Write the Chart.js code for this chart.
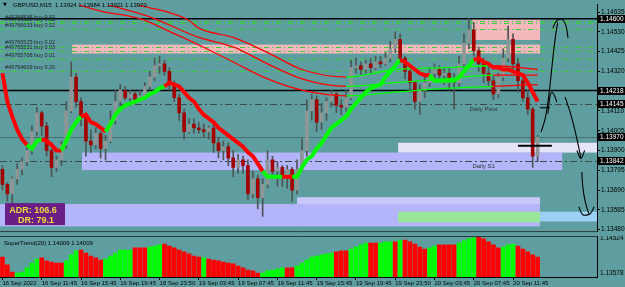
<!DOCTYPE html>
<html>
<head>
<meta charset="utf-8">
<script src="https://cdn.jsdelivr.net/npm/chart.js@4.4.1/dist/chart.umd.min.js"></script>
<style>
html, body { margin: 0; padding: 0; background: #5f9ea0; }
#wrap { position: relative; width: 625px; height: 287px; overflow: hidden; background: #5f9ea0; }
#main { position: absolute; left: 0; top: 0; }
#sub { position: absolute; left: 0; top: 236px; }
</style>
</head>
<body>
<div id="wrap">
  <canvas id="main" width="625" height="236"></canvas>
  <canvas id="sub" width="625" height="51"></canvas>
</div>
<script>
// GBPUSD M15 - candles, one per slot
const open = [1.1380,1.1372,1.1367,1.1375,1.1380,1.1384,1.1390,1.1400,1.1410,1.1403,
  1.1390,1.1381,1.1385,1.1393,1.1411,1.1429,1.1416,1.1408,1.1395,1.1393,
  1.1399,1.1391,1.1395,1.1406,1.1416,1.1422,1.1418,1.1420,1.1417,1.1419,
  1.1424,1.1429,1.1435,1.1436,1.1432,1.1425,1.1418,1.1410,1.1400,1.1404,
  1.1402,1.1401,1.1400,1.1402,1.1394,1.1390,1.1392,1.1386,1.1381,1.1385,
  1.1382,1.1367,1.1375,1.1365,1.1372,1.1385,1.1379,1.1381,1.1376,1.1380,
  1.1369,1.1380,1.1390,1.1411,1.1417,1.1405,1.1410,1.1416,1.1420,1.1414,
  1.1413,1.1418,1.1434,1.1435,1.1433,1.1436,1.1434,1.1437,1.1436,1.1439,
  1.1444,1.1449,1.1439,1.1432,1.1426,1.1416,1.1422,1.1426,1.1431,1.1433,
  1.1430,1.1431,1.1427,1.1426,1.1436,1.1447,1.1454,1.1443,1.1436,1.1431,
  1.1427,1.1420,1.1429,1.1439,1.1449,1.1436,1.1427,1.1418,1.1412,1.1387];
const high = [1.1382,1.1373,1.1376,1.1383,1.1386,1.1393,1.1403,1.1413,1.1411,1.1405,
  1.1391,1.1387,1.1395,1.1416,1.1437,1.1431,1.1418,1.1410,1.1401,1.1402,
  1.1400,1.1398,1.1411,1.1422,1.1425,1.1424,1.1422,1.1421,1.1422,1.1426,
  1.1432,1.1439,1.1440,1.1438,1.1434,1.1427,1.1420,1.1412,1.1407,1.1407,
  1.1405,1.1404,1.1403,1.1404,1.1397,1.1395,1.1394,1.1390,1.1388,1.1387,
  1.1385,1.1379,1.1377,1.1375,1.1390,1.1387,1.1384,1.1382,1.1382,1.1381,
  1.1385,1.1396,1.1417,1.1420,1.1419,1.1415,1.1418,1.1422,1.1421,1.1417,
  1.1422,1.1438,1.1439,1.1437,1.1438,1.1439,1.1440,1.1440,1.1442,1.1448,
  1.1453,1.1452,1.1440,1.1434,1.1427,1.1425,1.1429,1.1434,1.1436,1.1435,
  1.1434,1.1434,1.1431,1.1440,1.1452,1.1460,1.1458,1.1445,1.1439,1.1435,
  1.1430,1.1431,1.1444,1.1456,1.1452,1.1439,1.1430,1.1422,1.1413,1.1398];
const low = [1.1369,1.1363,1.1362,1.1372,1.1377,1.1382,1.1388,1.1398,1.1398,1.1387,
  1.1376,1.1379,1.1382,1.1391,1.1410,1.1413,1.1403,1.1387,1.1389,1.1391,
  1.1386,1.1385,1.1394,1.1404,1.1413,1.1417,1.1414,1.1415,1.1416,1.1418,
  1.1422,1.1427,1.1431,1.1430,1.1422,1.1416,1.1406,1.1396,1.1399,1.1399,
  1.1399,1.1397,1.1396,1.1389,1.1386,1.1385,1.1382,1.1376,1.1378,1.1378,
  1.1364,1.1365,1.1359,1.1355,1.1370,1.1375,1.1371,1.1371,1.1370,1.1363,
  1.1367,1.1379,1.1387,1.1406,1.1400,1.1401,1.1406,1.1413,1.1410,1.1409,
  1.1411,1.1417,1.1431,1.1430,1.1431,1.1431,1.1433,1.1434,1.1435,1.1437,
  1.1442,1.1437,1.1428,1.1421,1.1412,1.1409,1.1418,1.1424,1.1428,1.1427,
  1.1425,1.1422,1.1412,1.1424,1.1434,1.1444,1.1440,1.1432,1.1426,1.1424,
  1.1417,1.1418,1.1427,1.1437,1.1432,1.1421,1.1416,1.1409,1.1381,1.1384];
const close = [1.1372,1.1367,1.1375,1.1380,1.1384,1.1390,1.1400,1.1410,1.1403,1.1390,
  1.1381,1.1385,1.1393,1.1411,1.1429,1.1416,1.1408,1.1395,1.1393,1.1399,
  1.1391,1.1395,1.1406,1.1416,1.1422,1.1418,1.1420,1.1417,1.1419,1.1424,
  1.1429,1.1435,1.1436,1.1432,1.1425,1.1418,1.1410,1.1400,1.1404,1.1402,
  1.1401,1.1400,1.1402,1.1394,1.1390,1.1392,1.1386,1.1381,1.1385,1.1382,
  1.1367,1.1375,1.1365,1.1372,1.1385,1.1379,1.1381,1.1376,1.1380,1.1369,
  1.1380,1.1390,1.1411,1.1417,1.1405,1.1410,1.1416,1.1420,1.1414,1.1413,
  1.1418,1.1434,1.1435,1.1433,1.1436,1.1434,1.1437,1.1436,1.1439,1.1444,
  1.1449,1.1439,1.1432,1.1426,1.1416,1.1422,1.1426,1.1431,1.1433,1.1430,
  1.1431,1.1427,1.1426,1.1436,1.1447,1.1454,1.1443,1.1436,1.1431,1.1427,
  1.1420,1.1429,1.1439,1.1449,1.1436,1.1427,1.1418,1.1412,1.1387,1.1397];

// supertrend on the main window (r = down, g = up)
const stValue = [1.1431,1.1416,1.1408,1.1401,1.1396,1.1393,1.1391,1.1395,1.1396,1.1395,
  1.1393,1.1390,1.1390,1.1395,1.1401,1.1405,1.1408,1.1409,1.1405,1.1404,
  1.1402,1.1400,1.1404,1.1409,1.1412,1.1414,1.1415,1.1416,1.1417,1.1418,
  1.1420,1.1421,1.1423,1.1424,1.1426,1.1425,1.1424,1.1421,1.1418,1.1416,
  1.1412,1.1409,1.1407,1.1405,1.1402,1.1400,1.1398,1.1396,1.1394,1.1392,
  1.1389,1.1387,1.1383,1.1379,1.1376,1.1376,1.1376,1.1376,1.1376,1.1376,
  1.1376,1.1381,1.1385,1.1387,1.1391,1.1394,1.1398,1.1402,1.1404,1.1406,
  1.1408,1.1412,1.1415,1.1418,1.1421,1.1423,1.1424,1.1425,1.1429,1.1432,
  1.1435,1.1438,1.1437,1.1435,1.1433,1.1431,1.1430,1.1430,1.1427,1.1427,
  1.1427,1.1427,1.1427,1.1429,1.1432,1.1435,1.1438,1.1439,1.1437,1.1436,
  1.1434,1.1434,1.1433,1.1433,1.1432,1.1431,1.1430,1.1426,1.1421,1.1416];
const stTrend = ('rrrrrr ggg rrrr gggg rrrrr gggggggggggg rrrrrrrrrrrrrrrrrrrr gggg rr ' +
  'gggggggggggggggggggggg rrrrrr ggggggggg rrrrrrrrrrrrr').replace(/ /g, '').split('');

// moving averages, read at a few bars
const maSlowBars = [12,16,20,28,35,40,47,54,61,70,80,90,100,109];
const maSlow = [1.1471,1.1467,1.1464,1.1460,1.1452,1.1446,1.1437,1.1428,1.1422,1.1419,1.1421,1.1423,1.1424,1.1425];
const maMidBars = [18,22,30,40,47,54,61,70,80,90,100,109];
const maMid = [1.1470,1.1467,1.1461,1.1450,1.1445,1.1436,1.1428,1.1424,1.1426,1.1428,1.1430,1.1430];
const maFastBars = [25,28,33,38,40,47,54,61,70,80,90,100,109];
const maFast = [1.1470,1.1467,1.1464,1.1459,1.1455,1.1450,1.1442,1.1433,1.1429,1.1433,1.1434,1.1435,1.1433];
const maUpFrom = 70, maUpTo = 97;

// SuperTrend(20) sub window
const histValue = [1.1404,1.1386,1.1369,1.1367,1.1369,1.1379,1.1390,1.1399,1.1402,1.1395,
  1.1392,1.1390,1.1390,1.1395,1.1409,1.1418,1.1420,1.1413,1.1406,1.1402,
  1.1397,1.1399,1.1406,1.1413,1.1420,1.1420,1.1420,1.1425,1.1425,1.1425,
  1.1427,1.1429,1.1432,1.1434,1.1429,1.1425,1.1420,1.1416,1.1411,1.1406,
  1.1404,1.1402,1.1399,1.1397,1.1395,1.1392,1.1390,1.1388,1.1383,1.1379,
  1.1374,1.1372,1.1367,1.1367,1.1372,1.1374,1.1376,1.1379,1.1379,1.1379,
  1.1383,1.1390,1.1397,1.1404,1.1406,1.1409,1.1411,1.1413,1.1416,1.1418,
  1.1418,1.1422,1.1427,1.1432,1.1436,1.1436,1.1436,1.1436,1.1439,1.1439,
  1.1439,1.1443,1.1443,1.1439,1.1434,1.1427,1.1422,1.1425,1.1429,1.1432,
  1.1432,1.1432,1.1432,1.1436,1.1441,1.1446,1.1448,1.1450,1.1446,1.1439,
  1.1432,1.1425,1.1427,1.1432,1.1434,1.1429,1.1422,1.1416,1.1409,1.1404];
const histTrend = ('rrr ggggg rrrrr ggg rrrrr gggggg rrr ggg rrrrrrrr g rrrrrrrrrrr ggggg rr ' +
  'gggggggg rrr gggg rr ggg r g rrrrr gg rrrr gggg rrrrr ggg rrrrr').replace(/ /g, '').split('');
const histMin = 1.13578, histMax = 1.14524;

// axes
const priceMin = 1.13472, priceMax = 1.14673;
const priceTicks = [1.14635,1.14530,1.14425,1.14320,1.14215,1.14110,1.14005,1.13900,1.13795,1.13690,1.13585,1.13480];
const priceTags = [1.14600,1.14218,1.14145,1.13970,1.13842];
const timeSlots = [0,8,16,24,32,40,48,56,64,72,80,88,96,104];
const timeLabels = ['16 Sep 2022','16 Sep 11:45','16 Sep 15:45','16 Sep 19:45','18 Sep 23:50','19 Sep 03:45','19 Sep 07:45',
  '19 Sep 11:45','19 Sep 15:45','19 Sep 19:45','19 Sep 23:50','20 Sep 03:45','20 Sep 07:45','20 Sep 11:45'];
const slotMin = -0.5, slotMax = 121.1;

// chart objects
const blackLevels = [1.14600, 1.14218];
const bidLevel = 1.13970;
const pivotNames = ['Daily Pivot', 'Daily S1'];
const pivotLevels = [1.14145, 1.13842];
const pivotLabelSlot = 98;
const orderNames = ['#49766535 buy 0.02','#49766538 buy 0.02','#49766633 buy 0.02','#49765525 buy 0.02',
  '#49765531 buy 0.03','#49765706 buy 0.01','#49764609 buy 0.20'];
const orderPrices = [1.14585,1.14575,1.14544,1.14451,1.14426,1.14384,1.14322];
const zoneNames = ['pink','pink','lav','pale','lav','lavLight','green','blue'];
const zoneStart = [14.2, 95.6, 16.2, 80.6, -0.5, 60.0, 80.6, 109.5];
const zoneEnd = [109.5, 109.5, 114.0, 121.1, 109.5, 109.5, 109.5, 121.1];
const zoneHigh = [1.14462,1.14596,1.13889,1.13941,1.13616,1.13652,1.13575,1.13575];
const zoneLow = [1.14415,1.14487,1.13796,1.13889,1.13497,1.13616,1.13518,1.13523];
const adrText = ['ADR: 106.6', 'DR: 79.1'];
const titleText = 'GBPUSD,M15  1.13924 1.13984 1.13921 1.13970';
const subTitle = 'SuperTrend(20) 1.14009 1.14009';

// hand drawn strokes (slot, price)
const sketchSlots = [
  [109.7,110.5,111.1,111.5,112.1,112.7,113.1],
  [112.1,112.9,114.0,114.8,115.2],
  [111.1,111.5,111.9,112.5,112.9],
  [114.6,115.6,116.4,117.0,117.6,117.8],
  [117.0,117.8,118.6],
  [118.0,118.2,118.6,119.1,119.5],
  [117.4,118.2,119.7,120.5],
  [109.5,111.5]
];
const sketchPrices = [
  [1.13998,1.14065,1.14157,1.14240,1.14389,1.14518,1.14580],
  [1.14549,1.14590,1.14596,1.14560,1.14498],
  [1.14096,1.14183,1.14209,1.14188,1.14157],
  [1.14183,1.14106,1.14029,1.13962,1.13889,1.13858],
  [1.13900,1.13858,1.13900],
  [1.13786,1.13709,1.13642,1.13590,1.13564],
  [1.13601,1.13559,1.13564,1.13601],
  [1.14127,1.14127]
];
const markSlots = [105.0, 111.9];
const markPrice = 1.13925;

const zoneColors = { pink: '#f4b8bc', lav: '#b4b4fa', pale: '#e4e4f8', lavLight: '#c8c8fa', green: '#98e698', blue: '#9ccff6' };
const RED = '#ff0000', LIME = '#00ff00';
const FONT = 'Liberation Sans';

const bars = close.map((_, i) => i);
const maSeries = (idx, vals) => idx.map((b, k) => ({ x: b, y: vals[k] }));
const maColor = c => (c.p0.parsed.x >= maUpFrom && c.p0.parsed.x < maUpTo) ? LIME : RED;

const mainDecor = {
  id: 'mainDecor',
  beforeDatasetsDraw(chart) {
    const { ctx, chartArea: a, scales: { x, y } } = chart;
    ctx.save();
    ctx.beginPath();
    ctx.rect(a.left, a.top, a.right - a.left, a.bottom - a.top);
    ctx.clip();
    zoneNames.forEach((n, i) => {
      const x0 = x.getPixelForValue(zoneStart[i]), x1 = x.getPixelForValue(zoneEnd[i]);
      const y0 = y.getPixelForValue(zoneHigh[i]), y1 = y.getPixelForValue(zoneLow[i]);
      ctx.fillStyle = zoneColors[n];
      ctx.fillRect(x0, y0, x1 - x0, y1 - y0);
    });
    // order lines
    ctx.strokeStyle = '#3ccf3c';
    ctx.lineWidth = 1;
    ctx.setLineDash([5, 3, 1, 3]);
    orderPrices.forEach(p => {
      const py = Math.round(y.getPixelForValue(p)) + 0.5;
      ctx.beginPath(); ctx.moveTo(a.left, py); ctx.lineTo(a.right, py); ctx.stroke();
    });
    // pivots
    ctx.strokeStyle = '#3b4b4b';
    ctx.setLineDash([7, 3, 2, 3]);
    pivotLevels.forEach(p => {
      const py = Math.round(y.getPixelForValue(p)) + 0.5;
      ctx.beginPath(); ctx.moveTo(a.left, py); ctx.lineTo(a.right, py); ctx.stroke();
    });
    ctx.setLineDash([]);
    // bid line
    ctx.strokeStyle = '#4a6f70';
    let py = Math.round(y.getPixelForValue(bidLevel)) + 0.5;
    ctx.beginPath(); ctx.moveTo(a.left, py); ctx.lineTo(a.right, py); ctx.stroke();
    // horizontal black lines
    ctx.strokeStyle = '#000';
    ctx.lineWidth = 1.5;
    blackLevels.forEach(p => {
      const yy = y.getPixelForValue(p);
      ctx.beginPath(); ctx.moveTo(a.left, yy); ctx.lineTo(a.right, yy); ctx.stroke();
    });
    // texts
    ctx.fillStyle = '#1c2626';
    ctx.font = `5.5px "${FONT}"`;
    ctx.textBaseline = 'bottom';
    ctx.textAlign = 'left';
    orderNames.forEach((t, i) => ctx.fillText(t, a.left + 5, y.getPixelForValue(orderPrices[i]) - 1));
    ctx.font = `6px "${FONT}"`;
    ctx.fillStyle = '#2a3636';
    ctx.textAlign = 'center';
    ctx.textBaseline = 'top';
    pivotNames.forEach((t, i) => ctx.fillText(t, x.getPixelForValue(pivotLabelSlot), y.getPixelForValue(pivotLevels[i]) + 2));
    ctx.restore();
  },
  afterDraw(chart) {
    const { ctx, chartArea: a, scales: { y } } = chart;
    ctx.save();
    // ADR panel
    ctx.fillStyle = '#6a1e86';
    ctx.fillRect(a.left + 5, a.bottom - 28, 60, 22);
    ctx.fillStyle = '#ecdc3c';
    ctx.font = `bold 9px "${FONT}"`;
    ctx.textAlign = 'center';
    ctx.textBaseline = 'middle';
    ctx.fillText(adrText[0], a.left + 33, a.bottom - 21);
    ctx.fillText(adrText[1], a.left + 36, a.bottom - 11);
    // title
    ctx.fillStyle = '#000';
    ctx.textAlign = 'left';
    ctx.font = `5px "DejaVu Sans"`;
    ctx.fillText('\u25BC', a.left + 3, 5);
    ctx.font = `6px "${FONT}"`;
    ctx.fillText(titleText, a.left + 13, 5);
    // price tags
    ctx.font = `6.5px "${FONT}"`;
    priceTags.forEach(p => {
      const yy = Math.round(y.getPixelForValue(p));
      ctx.fillStyle = '#000';
      ctx.fillRect(a.right + 1, yy - 4, 27, 8);
      ctx.fillStyle = '#fff';
      ctx.fillText(p.toFixed(5), a.right + 3, yy);
    });
    // frame
    ctx.strokeStyle = '#2b3b3b';
    ctx.lineWidth = 1;
    ctx.beginPath();
    ctx.moveTo(a.left, a.bottom + 0.5); ctx.lineTo(a.right, a.bottom + 0.5);
    ctx.stroke();
    ctx.restore();
  }
};

new Chart(document.getElementById('main'), {
  type: 'bar',
  data: {
    datasets: [
      {
        label: 'wick', data: bars.map(i => ({ x: i, y: [low[i], high[i]] })),
        backgroundColor: '#4d5555', barThickness: 1, grouped: false, order: 6
      },
      {
        label: 'body', data: bars.map(i => ({ x: i, y: [open[i], close[i]] })),
        backgroundColor: c => close[c.dataIndex] >= open[c.dataIndex] ? '#8f9696' : '#a30000',
        barThickness: 3, grouped: false, order: 5
      },
      { type: 'line', label: 'ma slow', data: maSeries(maSlowBars, maSlow), borderWidth: 1.3, pointRadius: 0,
        cubicInterpolationMode: 'monotone', segment: { borderColor: maColor }, borderColor: RED, order: 4 },
      { type: 'line', label: 'ma mid', data: maSeries(maMidBars, maMid), borderWidth: 1.3, pointRadius: 0,
        cubicInterpolationMode: 'monotone', segment: { borderColor: maColor }, borderColor: RED, order: 4 },
      { type: 'line', label: 'ma fast', data: maSeries(maFastBars, maFast), borderWidth: 1.3, pointRadius: 0,
        cubicInterpolationMode: 'monotone', segment: { borderColor: maColor }, borderColor: RED, order: 4 },
      { type: 'line', label: 'supertrend', data: bars.map(i => ({ x: i, y: stValue[i] })), borderWidth: 4,
        pointRadius: 0, borderColor: RED, order: 3,
        segment: { borderColor: c => stTrend[c.p1DataIndex] === 'r' ? RED : LIME } },
      ...sketchSlots.map((s, k) => ({
        type: 'line', label: 'sketch' + k, data: s.map((v, j) => ({ x: v, y: sketchPrices[k][j] })),
        borderColor: '#000', borderWidth: 1.1, pointRadius: 0, tension: 0.35, order: 1
      })),
      { type: 'line', label: 'mark', data: markSlots.map(v => ({ x: v, y: markPrice })),
        borderColor: '#000', borderWidth: 2, pointRadius: 0, order: 1 }
    ]
  },
  options: {
    responsive: false, animation: false, events: [],
    layout: { padding: { left: 0, right: 0, top: 0, bottom: 3 } },
    plugins: { legend: { display: false }, tooltip: { enabled: false } },
    scales: {
      x: { type: 'linear', min: slotMin, max: slotMax, offset: false, display: false },
      y: {
        position: 'right', min: priceMin, max: priceMax,
        afterBuildTicks: s => { s.ticks = priceTicks.map(v => ({ value: v })); },
        afterFit: s => { s.width = 28; },
        ticks: { callback: v => v.toFixed(5), color: '#000', font: { family: FONT, size: 6.5 }, padding: 1, autoSkip: false },
        grid: { drawOnChartArea: false, tickLength: 3, color: '#000' },
        border: { display: true, color: '#000' }
      }
    }
  },
  plugins: [mainDecor]
});

const subDecor = {
  id: 'subDecor',
  afterDraw(chart) {
    const { ctx, chartArea: a } = chart;
    ctx.save();
    ctx.fillStyle = '#000';
    ctx.font = `6px "${FONT}"`;
    ctx.textBaseline = 'middle';
    ctx.textAlign = 'left';
    ctx.fillText(subTitle, a.left + 4, a.top + 7);
    ctx.font = `6.5px "${FONT}"`;
    ctx.fillText(histMax.toFixed(5), a.right + 3, a.top + 2);
    ctx.fillText(histMin.toFixed(5), a.right + 3, a.bottom - 4);
    ctx.strokeStyle = '#2b3b3b';
    ctx.lineWidth = 1;
    ctx.beginPath();
    ctx.moveTo(a.left, a.top + 0.5); ctx.lineTo(a.right, a.top + 0.5);
    ctx.stroke();
    ctx.restore();
  }
};

new Chart(document.getElementById('sub'), {
  type: 'bar',
  data: {
    datasets: [{
      label: 'SuperTrend(20)', data: bars.map(i => ({ x: i, y: histValue[i] })),
      backgroundColor: c => histTrend[c.dataIndex] === 'r' ? RED : LIME,
      barThickness: 4, grouped: false
    }]
  },
  options: {
    responsive: false, animation: false, events: [],
    layout: { padding: 0 },
    plugins: { legend: { display: false }, tooltip: { enabled: false } },
    scales: {
      x: {
        type: 'linear', min: slotMin, max: slotMax, offset: false,
        afterBuildTicks: s => { s.ticks = timeSlots.map(v => ({ value: v })); },
        afterFit: s => { s.height = 10; },
        ticks: { callback: (v, i) => timeLabels[i], align: 'start', autoSkip: false, maxRotation: 0,
          color: '#000', font: { family: FONT, size: 6 }, padding: 0 },
        grid: { drawOnChartArea: false, tickLength: 3, color: '#000', offset: false },
        border: { display: true, color: '#000' }
      },
      y: {
        position: 'right', min: histMin, max: histMax,
        afterFit: s => { s.width = 28; },
        ticks: { display: false },
        grid: { display: false },
        border: { display: true, color: '#000' }
      }
    }
  },
  plugins: [subDecor]
});
</script>
</body>
</html>
